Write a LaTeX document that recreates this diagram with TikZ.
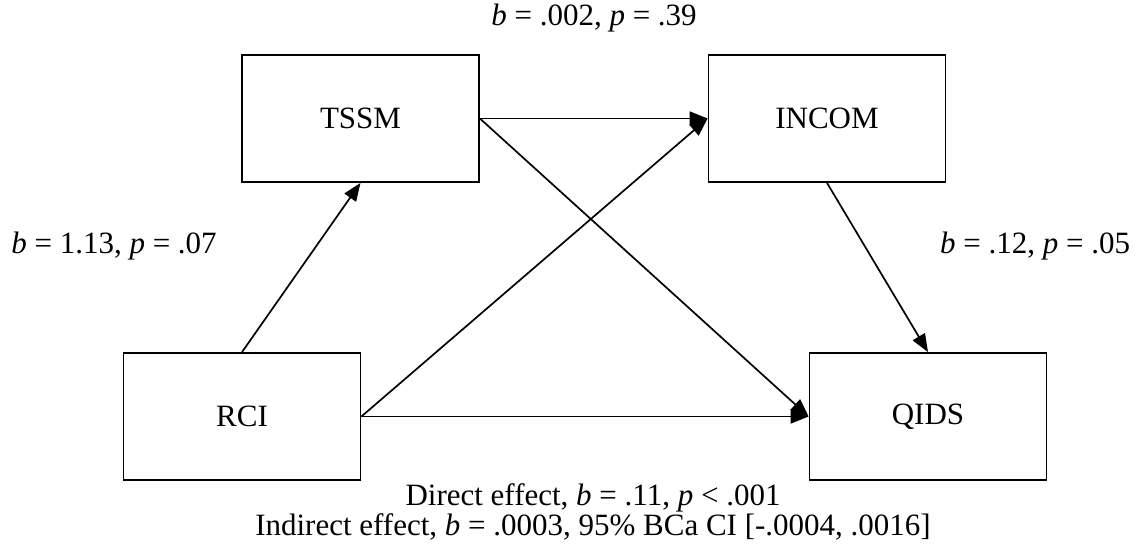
\documentclass[tikz,border=0pt]{standalone}
\usepackage{fontspec}
\setmainfont{Liberation Serif}
\usetikzlibrary{arrows.meta}
\begin{document}
\begin{tikzpicture}[x=1pt,y=-1pt,
  varbox/.style={draw, line width=1.8pt, minimum width=237pt, minimum height=127pt, inner sep=0pt, font=\fontsize{31}{36}\selectfont},
  lbl/.style={inner sep=0pt, font=\fontsize{31}{30}\selectfont, align=center},
  arr/.style={line width=1.7pt, -{Triangle[length=18pt,width=14pt]}, shorten >=0pt}]
\useasboundingbox (0,0) rectangle (1139,546);
\node[varbox] (tssm) at (360.5,118.5) {TSSM};
\node[varbox] (incom) at (827,118.5) {INCOM};
\node[varbox] (rci) at (242,416.5) {RCI};
\node[varbox] (qids) at (928,416.5) {QIDS};
\draw[arr] (rci.north) -- (tssm.south);
\draw[arr] (tssm.east) -- (incom.west);
\draw[arr] (tssm.east) -- (qids.west);
\draw[arr] (rci.east) -- (incom.west);
\draw[arr] (rci.east) -- (qids.west);
\draw[arr] (incom.south) -- (qids.north);
\node[lbl] (l1) at (594,18) {\textit{b} = .002, \textit{p} = .39};
\node[lbl] (l2) at (114,246) {\textit{b} = 1.13, \textit{p} = .07};
\node[lbl] (l3) at (1035,246) {\textit{b} = .12, \textit{p} = .05};
\node[lbl] (l4) at (593,512) {Direct effect, \textit{b} = .11, \textit{p} < .001\\Indirect effect, \textit{b} = .0003, 95\% BCa CI [-.0004, .0016]};
\end{tikzpicture}
\end{document}
